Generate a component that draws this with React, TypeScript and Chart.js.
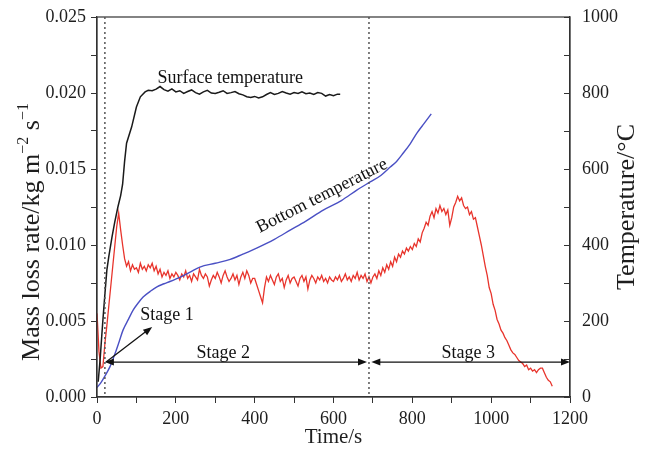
import { useEffect, useRef } from 'react';
import { Chart, registerables } from 'chart.js';

Chart.register(...registerables);

// ---------- data ----------
const massLossStartTime = 0; // s
const massLossStep = 5; // s between samples
const massLossRate = [
  0.0055, 0.0030, 0.0019, 0.0020, 0.0035, 0.0047, 0.0060, 0.0073, 0.0086, 0.0099,
  0.0112, 0.0121, 0.0110, 0.0100, 0.0091, 0.0086, 0.0089, 0.0083, 0.0087, 0.0084,
  0.0085, 0.0082, 0.0088, 0.0084, 0.0086, 0.0083, 0.0087, 0.0085, 0.0088, 0.0083,
  0.0086, 0.0081, 0.0084, 0.0079, 0.0082, 0.0080, 0.0083, 0.0078, 0.0081, 0.0079,
  0.0082, 0.0080, 0.0077, 0.0081, 0.0079, 0.0083, 0.0078, 0.0080, 0.0076, 0.0081,
  0.0079, 0.0077, 0.0084, 0.0080, 0.0078, 0.0081, 0.0079, 0.0073, 0.0077, 0.0080,
  0.0078, 0.0082, 0.0079, 0.0075, 0.0080, 0.0083, 0.0079, 0.0076, 0.0078, 0.0081,
  0.0077, 0.0080, 0.0074, 0.0079, 0.0082, 0.0078, 0.0083, 0.0080, 0.0075, 0.0078,
  0.0078, 0.0074, 0.0070, 0.0066, 0.0062, 0.0072, 0.0079, 0.0076, 0.0080, 0.0077,
  0.0074, 0.0079, 0.0081, 0.0076, 0.0078, 0.0072, 0.0077, 0.0080, 0.0075, 0.0078,
  0.0079, 0.0076, 0.0073, 0.0078, 0.0080, 0.0076, 0.0079, 0.0071, 0.0077, 0.0080,
  0.0078, 0.0075, 0.0079, 0.0077, 0.0080, 0.0076, 0.0078, 0.0075, 0.0079, 0.0077,
  0.0076, 0.0079, 0.0077, 0.0080, 0.0076, 0.0078, 0.0081, 0.0077, 0.0079, 0.0076,
  0.0080, 0.0078, 0.0082, 0.0077, 0.0080, 0.0078, 0.0081, 0.0076, 0.0079, 0.0075,
  0.0079, 0.0081, 0.0078, 0.0083, 0.0080, 0.0085, 0.0082, 0.0087, 0.0084, 0.0089,
  0.0086, 0.0092, 0.0089, 0.0094, 0.0092, 0.0096, 0.0094, 0.0098, 0.0096, 0.0099,
  0.0097, 0.0101, 0.0099, 0.0104, 0.0102, 0.0108, 0.0111, 0.0115, 0.0113, 0.0119,
  0.0122, 0.0118, 0.0124, 0.0121, 0.0126, 0.0122, 0.0124, 0.0120, 0.0123, 0.0113,
  0.0118, 0.0125, 0.0128, 0.0132, 0.0129, 0.0131, 0.0126, 0.0124, 0.0125, 0.0120,
  0.0122, 0.0117, 0.0118, 0.0112, 0.0106, 0.0100, 0.0093, 0.0086, 0.0080, 0.0072,
  0.0068, 0.0061, 0.0057, 0.0051, 0.0048, 0.0044, 0.0042, 0.0039, 0.0037, 0.0034,
  0.0031, 0.0029, 0.0028, 0.0026, 0.0024, 0.0023, 0.0022, 0.0020, 0.0021, 0.0018,
  0.0019, 0.0017, 0.0018, 0.0016, 0.0018, 0.0019, 0.0019, 0.0016, 0.0013, 0.0011,
  0.0010, 0.0007,
];

const surfaceTime = [
  3, 8, 12, 15, 20, 25, 30, 38, 45, 53, 60, 65, 70, 75, 88, 100, 110, 122,
  130, 140, 150, 160, 170, 180, 190, 200, 210, 220, 230, 240, 250, 260, 270, 280, 290,
  300, 310, 320, 330, 340, 350, 360, 370, 380, 390, 400, 410, 420, 430, 440, 450,
  460, 470, 480, 490, 500, 510, 520, 530, 540, 550, 560, 570, 580, 590, 600, 610, 617,
];
const surfaceTemp = [
  40, 100, 160, 203, 270, 334, 370, 421, 460, 500, 530, 560, 620, 668, 711, 763, 790, 803,
  807, 806, 810, 817, 809, 805, 811, 803, 806, 799, 804, 808, 801, 797, 803, 807, 800,
  799, 802, 806, 799, 801, 804, 798, 795, 790, 788, 791, 787, 790, 796, 801, 796,
  799, 804, 800, 797, 801, 799, 803, 798, 800, 796, 801, 799, 792, 796, 793, 797, 797,
];

const bottomTime = [
  0, 10, 20, 33, 46, 56, 66, 80, 92, 105, 117, 135, 152, 170, 185, 210, 235, 261,
  300, 338, 370, 405, 450, 490, 530, 574, 620, 660, 693, 720, 744, 760, 777, 795, 812, 830, 848,
];
const bottomTemp = [
  25, 38, 55, 80, 115, 145, 176, 205, 229, 248, 263, 278, 290, 298, 304, 315, 328, 342,
  352, 362, 376, 392, 415, 439, 463, 492, 517, 545, 566, 583, 605, 620, 642, 667, 695, 720, 745,
];

const stageBoundaries = [20, 690]; // s
const stageArrowTemp = 92; // °C, height of the stage arrows
const stageLabels = ['Stage 1', 'Stage 2', 'Stage 3'];
const timeRange = [0, 1200];
const massRange = [0, 0.025];
const tempRange = [0, 1000];
const rightTitle = 'Temperature/\u00B0C';
// left title pieces: [text, isSuperscript]
const leftTitleParts: [string, boolean][] = [
  ['Mass loss rate/kg m', false],
  ['\u22122', true],
  [' s', false],
  ['\u22121', true],
];

// ---------- styling ----------
const FONT = "'Liberation Serif', 'Times New Roman', serif";
const INK = '#1e1e1e';
const Y_TITLE_SIZE = 26;

const annotationPlugin = {
  id: 'paperAnnotations',
  afterDatasetsDraw(chart: any) {
    const { ctx, chartArea: a, scales } = chart;
    const xs = scales.x;
    const t2 = scales.y2;
    const px = (t: number) => xs.getPixelForValue(t);
    const py = (T: number) => t2.getPixelForValue(T);
    ctx.save();

    // frame
    ctx.strokeStyle = '#333';
    ctx.lineWidth = 1.2;
    ctx.setLineDash([]);
    ctx.strokeRect(a.left, a.top, a.right - a.left, a.bottom - a.top);

    // inward ticks on the right axis
    ctx.lineWidth = 1;
    for (const tk of t2.ticks) {
      const y = Math.round(py(tk.value)) + 0.5;
      ctx.beginPath();
      ctx.moveTo(a.right - 6, y);
      ctx.lineTo(a.right, y);
      ctx.stroke();
    }

    // dotted stage boundaries
    ctx.setLineDash([2, 3]);
    ctx.strokeStyle = '#555';
    ctx.lineWidth = 1.5;
    for (const b of stageBoundaries) {
      const x = px(b);
      ctx.beginPath();
      ctx.moveTo(x, a.top);
      ctx.lineTo(x, a.bottom);
      ctx.stroke();
    }
    ctx.setLineDash([]);

    const head = (x: number, y: number, ang: number) => {
      const L = 9, W = 3.5;
      ctx.save();
      ctx.translate(x, y);
      ctx.rotate(ang);
      ctx.beginPath();
      ctx.moveTo(0, 0);
      ctx.lineTo(-L, -W);
      ctx.lineTo(-L, W);
      ctx.closePath();
      ctx.fill();
      ctx.restore();
    };

    ctx.strokeStyle = '#111';
    ctx.fillStyle = '#111';
    ctx.lineWidth = 1.3;
    const ya = py(stageArrowTemp);
    const segs = [
      [stageBoundaries[0], stageBoundaries[1] - 5],
      [stageBoundaries[1] + 6, timeRange[1]],
    ];
    for (const [s, e] of segs) {
      const x1 = px(s), x2 = px(e);
      ctx.beginPath();
      ctx.moveTo(x1 + 4, ya);
      ctx.lineTo(x2 - 4, ya);
      ctx.stroke();
      head(x1, ya, Math.PI);
      head(x2, ya, 0);
    }
    // Stage 1 pointer
    const sx = px(stageBoundaries[0] + 3), sy = ya;
    const ex = px(140), ey = py(184);
    ctx.beginPath();
    ctx.moveTo(sx, sy);
    ctx.lineTo(ex - 3, ey + 2);
    ctx.stroke();
    head(ex, ey, Math.atan2(ey - sy, ex - sx));

    // texts
    ctx.fillStyle = '#111';
    ctx.font = `18px ${FONT}`;
    ctx.textBaseline = 'middle';
    ctx.textAlign = 'center';
    ctx.fillText('Surface temperature', px(338), py(838));
    ctx.fillText(stageLabels[1], px(320), py(116));
    ctx.fillText(stageLabels[2], px(942), py(116));
    ctx.textAlign = 'left';
    ctx.fillText(stageLabels[0], px(110), py(216));
    ctx.save();
    ctx.translate(px(571), py(529));
    ctx.rotate((-27 * Math.PI) / 180);
    ctx.textAlign = 'center';
    ctx.fillText('Bottom temperature', 0, 0);
    ctx.restore();

    // right axis title, reading bottom to top
    ctx.save();
    ctx.fillStyle = INK;
    ctx.font = `${Y_TITLE_SIZE}px ${FONT}`;
    ctx.translate(627, (a.top + a.bottom) / 2);
    ctx.rotate(-Math.PI / 2);
    ctx.textAlign = 'center';
    ctx.textBaseline = 'middle';
    ctx.fillText(rightTitle, 0, 0);
    ctx.restore();

    // left axis title with superscripts
    ctx.save();
    ctx.fillStyle = INK;
    const S = Y_TITLE_SIZE;
    const supS = Math.round(S * 0.62);
    const widths = leftTitleParts.map(([t, sup]) => {
      ctx.font = `${sup ? supS : S}px ${FONT}`;
      return ctx.measureText(t).width;
    });
    const total = widths.reduce((p, w) => p + w, 0);
    ctx.translate(39, 232);
    ctx.rotate(-Math.PI / 2);
    ctx.textAlign = 'left';
    ctx.textBaseline = 'alphabetic';
    let cx = -total / 2;
    leftTitleParts.forEach(([t, sup], i) => {
      ctx.font = `${sup ? supS : S}px ${FONT}`;
      ctx.fillText(t, cx, sup ? -S * 0.42 : 0);
      cx += widths[i];
    });
    ctx.restore();

    ctx.restore();
  },
};

export default function App() {
  const ref = useRef<HTMLCanvasElement | null>(null);

  useEffect(() => {
    document.body.style.margin = '0';
    const canvas = ref.current;
    if (!canvas) return;

    const massPoints = massLossRate.map((v, i) => ({ x: massLossStartTime + i * massLossStep, y: v }));
    const surfacePoints = surfaceTime.map((t, i) => ({ x: t, y: surfaceTemp[i] }));
    const bottomPoints = bottomTime.map((t, i) => ({ x: t, y: bottomTemp[i] }));

    const tickFont = { family: FONT, size: 18 };
    const titleFont = { family: FONT, size: 21 };

    const chart = new Chart(canvas, {
      type: 'line',
      data: {
        datasets: [
          {
            label: 'Surface temperature',
            data: surfacePoints,
            yAxisID: 'y2',
            borderColor: '#1a1a1a',
            borderWidth: 1.5,
            pointRadius: 0,
            tension: 0,
          },
          {
            label: 'Bottom temperature',
            data: bottomPoints,
            yAxisID: 'y2',
            borderColor: '#4a50c4',
            borderWidth: 1.4,
            pointRadius: 0,
            cubicInterpolationMode: 'monotone',
          },
          {
            label: 'Mass loss rate',
            data: massPoints,
            yAxisID: 'y',
            borderColor: '#e8342c',
            borderWidth: 1.3,
            pointRadius: 0,
            tension: 0,
          },
        ],
      },
      options: {
        animation: false,
        responsive: true,
        maintainAspectRatio: false,
        layout: { padding: { top: 17, left: 0, right: 0, bottom: 0 } },
        plugins: { legend: { display: false }, tooltip: { enabled: false } },
        scales: {
          x: {
            type: 'linear',
            min: timeRange[0],
            max: timeRange[1],
            ticks: {
              stepSize: 100,
              autoSkip: false,
              maxRotation: 0,
              padding: 5,
              color: INK,
              font: tickFont,
              callback: (v: any) => (Number(v) % 200 === 0 ? String(v) : ''),
            },
            grid: { drawOnChartArea: false, tickLength: 6, color: '#333' },
            border: { color: '#333', width: 1.2 },
            title: { display: true, text: 'Time/s', color: INK, font: titleFont, padding: { top: 0, bottom: 4 } },
            afterFit: (s: any) => {
              s.height = 57;
            },
          },
          y: {
            position: 'left',
            min: massRange[0],
            max: massRange[1],
            ticks: {
              stepSize: 0.0025,
              autoSkip: false,
              padding: 5,
              color: INK,
              font: tickFont,
              callback: (v: any) => (Math.round(Number(v) / 0.0025) % 2 === 0 ? Number(v).toFixed(3) : ''),
            },
            grid: { drawOnChartArea: false, tickLength: 6, color: '#333' },
            border: { color: '#333', width: 1.2 },
            afterFit: (s: any) => {
              s.width = 97;
            },
          },
          y2: {
            position: 'right',
            min: tempRange[0],
            max: tempRange[1],
            ticks: {
              stepSize: 100,
              autoSkip: false,
              padding: 4,
              color: INK,
              font: tickFont,
              callback: (v: any) => (Number(v) % 200 === 0 ? String(v) : ''),
            },
            grid: { display: false, drawOnChartArea: false },
            border: { color: '#333', width: 1.2 },
            afterFit: (s: any) => {
              s.width = 75;
            },
          },
        },
      },
      plugins: [annotationPlugin],
    } as any);

    return () => chart.destroy();
  }, []);

  return (
    <div style={{ position: 'relative', width: 645, height: 454, background: '#fff' }}>
      <canvas ref={ref} />
    </div>
  );
}
